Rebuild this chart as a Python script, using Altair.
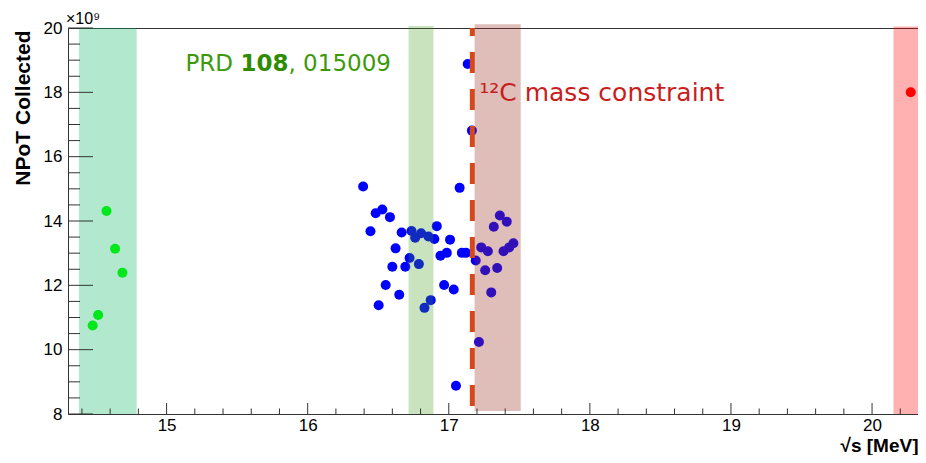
import altair as alt
import pandas as pd

# ---------------- data ----------------
green_x = [14.574, 14.635, 14.687, 14.515, 14.476]
green_y = [14.31, 13.14, 12.39, 11.08, 10.75]

blue_x = [16.393, 17.077, 16.482, 16.529, 16.583, 16.445, 16.666, 16.736, 16.762, 16.804,
          16.856, 16.898, 16.915, 17.009, 16.623, 16.722, 16.600, 16.692, 16.788, 16.941,
          16.986, 17.093, 17.122, 16.553, 16.649, 16.503, 16.872, 16.828, 16.967, 17.035,
          17.051, 17.362, 17.411, 17.319, 17.230, 17.277, 17.191, 17.258, 17.343, 17.388,
          17.428, 17.458, 17.301, 17.214, 17.134, 17.164]
blue_y = [15.07, 15.03, 14.24, 14.36, 14.12, 13.68, 13.64, 13.69, 13.48, 13.62,
          13.52, 13.44, 13.84, 13.42, 13.15, 12.85, 12.58, 12.58, 12.66, 12.92,
          13.01, 13.01, 13.01, 12.01, 11.71, 11.38, 11.54, 11.30, 12.01, 11.87,
          8.88, 14.17, 13.98, 13.82, 13.18, 13.06, 12.77, 12.47, 12.54, 13.06,
          13.18, 13.31, 11.78, 10.24, 18.88, 16.81]

red_x = [20.274]
red_y = [18.0]

band_x1 = [14.379, 16.715, 17.183, 20.152]
band_x2 = [14.788, 16.891, 17.510, 20.3256]
band_y1 = [8.0, 8.0, 8.09, 8.0]
band_y2 = [20.0, 20.06, 20.12, 20.05]
band_color = ["#00b45a", "#399a12", "#9c3225", "#ff0000"]
band_opacity = [0.30, 0.28, 0.32, 0.31]

constraint_x = [17.167]
constraint_y1 = [20.0]
constraint_y2 = [8.0]

x_major = [15, 16, 17, 18, 19, 20]
x_minor = [14.4, 14.6, 14.8, 15.2, 15.4, 15.6, 15.8, 16.2, 16.4, 16.6, 16.8,
           17.2, 17.4, 17.6, 17.8, 18.2, 18.4, 18.6, 18.8, 19.2, 19.4, 19.6, 19.8,
           20.2]
y_major = [8, 10, 12, 14, 16, 18, 20]
y_minor = [8.5, 9, 9.5, 10.5, 11, 11.5, 12.5, 13, 13.5, 14.5, 15, 15.5,
           16.5, 17, 17.5, 18.5, 19, 19.5]

X_DOMAIN = [14.3013, 20.3256]
Y_DOMAIN = [8, 20]
W, H = 850, 386

xs = alt.Scale(domain=X_DOMAIN, nice=False, zero=False)
ys = alt.Scale(domain=Y_DOMAIN, nice=False, zero=False)

AX_X = alt.Axis(
    values=x_major, format="d", ticks=False, tickSize=0, domain=False, grid=False,
    labelFont="Liberation Sans", labelFontSize=17, labelColor="#000",
    labelPadding=16, labelBaseline="alphabetic",
    title="√s [MeV]", titleFont="Liberation Sans", titleFontSize=19,
    titleFontWeight="bold", titleColor="#000",
    titleX=W, titleY=37, titleAlign="right", titleBaseline="alphabetic")
AX_Y = alt.Axis(
    values=y_major, format="d", ticks=False, tickSize=0, domain=False, grid=False,
    labelFont="Liberation Sans", labelFontSize=17, labelColor="#000",
    labelPadding=6,
    title="NPoT Collected", titleFont="Liberation Sans", titleFontSize=21,
    titleFontWeight="bold", titleColor="#000",
    titleAngle=270, titleAlign="right", titleBaseline="alphabetic",
    titleX=-39, titleY=2)


def X(field):
    return alt.X(field, scale=xs, axis=AX_X)


def Y(field):
    return alt.Y(field, scale=ys, axis=AX_Y)


pts = pd.DataFrame({
    "x": green_x + blue_x + red_x,
    "y": green_y + blue_y + red_y,
    "g": ["green"] * len(green_x) + ["blue"] * len(blue_x) + ["red"] * len(red_x),
})

points = alt.Chart(pts).mark_circle(size=100, opacity=1).encode(
    x=X("x:Q"), y=Y("y:Q"),
    color=alt.Color("g:N", scale=alt.Scale(domain=["green", "blue", "red"],
                                           range=["#00ff00", "#0000ff", "#ff0000"]),
                    legend=None),
)

bands_df = pd.DataFrame({"x": band_x1, "x2": band_x2, "y": band_y1, "y2": band_y2,
                         "c": band_color, "o": band_opacity})
bands = alt.Chart(bands_df).mark_rect().encode(
    x=X("x:Q"), x2="x2:Q", y=Y("y:Q"), y2="y2:Q",
    color=alt.Color("c:N", scale=None),
    opacity=alt.Opacity("o:Q", scale=None),
)

line_df = pd.DataFrame({"x": constraint_x, "y": constraint_y1, "y2": constraint_y2})
cline = alt.Chart(line_df).mark_rule(strokeDash=[21, 16], strokeDashOffset=13,
                                     strokeWidth=5, color="#d4491c").encode(
    x=X("x:Q"), y=Y("y:Q"), y2="y2:Q")


def yticks(vals, length):
    return alt.Chart(pd.DataFrame({"y": vals})).mark_rule(color="#333", strokeWidth=1).encode(
        y=Y("y:Q"), x=alt.value(0), x2=alt.value(length))


def xticks(vals, length):
    return alt.Chart(pd.DataFrame({"x": vals})).mark_rule(color="#333", strokeWidth=1).encode(
        x=X("x:Q"), y=alt.value(H), y2=alt.value(H - length))


ticks = [yticks(y_major, 25), yticks(y_minor, 12), xticks(x_major, 11), xticks(x_minor, 5.5)]


def label(text, x, y, size, color, font, weight="normal", dx=0, dy=0, align="left"):
    return alt.Chart(pd.DataFrame({"x": [x], "y": [y], "t": [text]})).mark_text(
        fontSize=size, color=color, font=font, fontWeight=weight, align=align,
        baseline="alphabetic", dx=dx, dy=dy).encode(
        x=X("x:Q"), y=Y("y:Q"), text="t:N")


texts = [
    label("PRD", 15.134, 18.66, 23, "#3c9a0a", "DejaVu Sans"),
    label("108", 15.134, 18.66, 23, "#2f8c00", "DejaVu Sans", weight="bold", dx=55),
    label(", 015009", 15.134, 18.66, 23, "#3c9a0a", "DejaVu Sans", dx=103),
    label("¹²C mass constraint", 17.216, 17.73, 25, "#c81e1e", "DejaVu Sans"),
    label("×10⁹", X_DOMAIN[0], 20, 16, "#000", "Liberation Sans", dx=-2, dy=-4),
]

chart = alt.layer(points, bands, cline, *ticks, *texts).properties(
    width=W, height=H,
    autosize=alt.AutoSizeParams(type="none"),
    padding={"left": 60, "top": 20, "right": 0, "bottom": 41},
).configure_view(stroke="#333", strokeWidth=1)

chart.save("out.html", embed_options={"renderer": "svg", "actions": False})
